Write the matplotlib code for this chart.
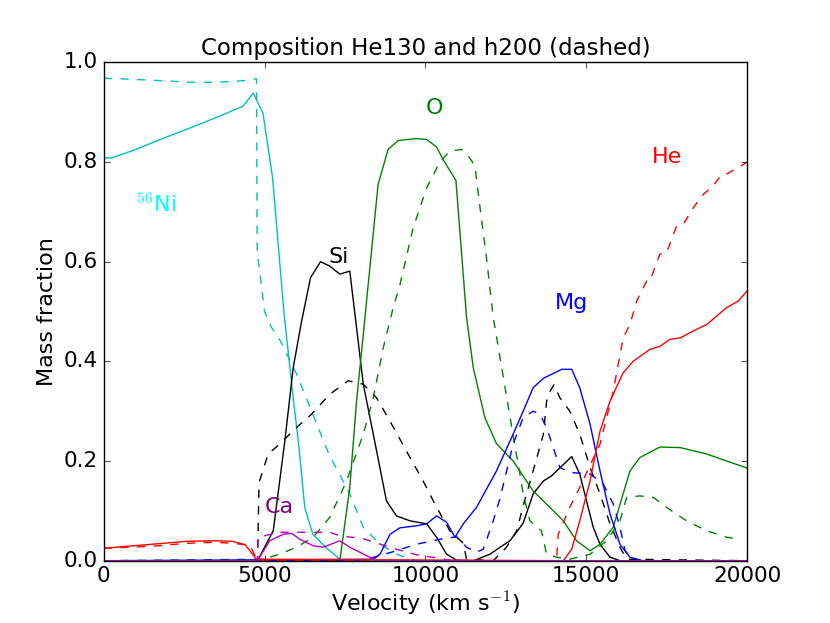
import numpy as np
import matplotlib
matplotlib.use('Agg')
import matplotlib.pyplot as plt

plt.style.use('classic')
plt.rcParams['font.size'] = 16
plt.rcParams['xtick.labelsize'] = 15.5
plt.rcParams['ytick.labelsize'] = 15.5

# He130 (solid) and h200 (dashed): velocity [km/s] and mass fraction
ni_v  = [0, 230, 910, 1950, 2990, 3820, 4330, 4650, 4750, 4950, 5250, 5600, 5900, 6050, 6250, 6500, 6900, 7400, 20000]
ni_f  = [0.808, 0.808, 0.823, 0.85, 0.876, 0.898, 0.912, 0.938, 0.925, 0.898, 0.768, 0.50, 0.32, 0.24, 0.107, 0.053, 0.027, 0.0, 0.0]
ni_vd = [0, 500, 1500, 2700, 3500, 4330, 4750, 4770, 4850, 5000, 5200, 5500, 6000, 6500, 7000, 7650, 8070, 8590, 9100, 9720, 20000]
ni_fd = [0.968, 0.967, 0.964, 0.960, 0.960, 0.963, 0.967, 0.62, 0.58, 0.50, 0.47, 0.44, 0.374, 0.294, 0.214, 0.134, 0.067, 0.033, 0.013, 0.0, 0.0]

si_v  = [0, 4780, 5270, 5630, 5890, 6150, 6430, 6740, 7030, 7340, 7650, 7800, 8070, 8380, 8790, 9100, 9520, 10040, 10350, 10660, 10970, 11500,
         12010, 12320, 12630, 13040, 13350, 13670, 13920, 14240, 14550, 14800, 15010, 15220, 15430, 15740, 16050, 20000]
si_f  = [0, 0, 0.06, 0.24, 0.387, 0.48, 0.568, 0.60, 0.591, 0.575, 0.581, 0.50, 0.354, 0.254, 0.12, 0.09, 0.08, 0.074, 0.047, 0.013, 0.001, 0.0,
         0.013, 0.027, 0.04, 0.075, 0.134, 0.16, 0.17, 0.19, 0.209, 0.174, 0.12, 0.067, 0.033, 0.007, 0.0, 0.0]
si_vd = [0, 4780, 4830, 5110, 5470, 5940, 6460, 7030, 7600, 8070, 8480, 8900, 9410, 9930, 10350, 10760, 11180, 11280, 12110, 12520, 12840,
         13040, 13350, 13670, 13770, 13820, 14000, 14180, 14490, 14800, 15120, 15430, 15740, 16050, 16260, 20000]
si_fd = [0, 0, 0.157, 0.214, 0.234, 0.264, 0.294, 0.334, 0.361, 0.354, 0.327, 0.28, 0.22, 0.16, 0.107, 0.06, 0.035, 0.003, 0.0, 0.027, 0.06,
         0.11, 0.18, 0.254, 0.32, 0.334, 0.353, 0.327, 0.30, 0.254, 0.187, 0.134, 0.074, 0.027, 0.003, 0.0]

o_v  = [0, 7340, 7650, 7860, 8070, 8170, 8530, 8840, 9150, 9720, 10040, 10350, 10550, 10950, 11280, 11490, 11850, 12210, 12730, 13350,
        13870, 14290, 14700, 15120, 15430, 15840, 16360, 16670, 17290, 17920, 18750, 19370, 20000]
o_f  = [0, 0, 0.147, 0.32, 0.454, 0.52, 0.755, 0.825, 0.843, 0.847, 0.845, 0.830, 0.805, 0.763, 0.488, 0.387, 0.287, 0.235, 0.20, 0.14,
        0.107, 0.08, 0.04, 0.02, 0.033, 0.067, 0.18, 0.207, 0.228, 0.227, 0.214, 0.20, 0.186]
o_vd = [0, 4950, 5470, 5990, 6510, 7030, 7550, 8070, 8380, 8690, 9000, 9210, 9620, 10040, 10450, 10760, 11130, 11380, 11540, 11700, 11900,
        12110, 12420, 12730, 12940, 13040, 13250, 13610, 13770, 14080, 14490, 15120, 15640, 16050, 16260, 16670, 17090, 17500, 18120, 18750,
        19370, 19800]
o_fd = [0, 0.003, 0.013, 0.027, 0.047, 0.087, 0.16, 0.254, 0.327, 0.427, 0.508, 0.554, 0.668, 0.748, 0.80, 0.822, 0.825, 0.808, 0.792, 0.708, 0.608,
        0.488, 0.37, 0.25, 0.174, 0.134, 0.08, 0.06, 0.013, 0.007, 0.003, 0.013, 0.04, 0.08, 0.127, 0.13, 0.127, 0.107, 0.08, 0.06,
        0.047, 0.043]

mg_v  = [0, 8380, 8590, 8900, 9210, 9720, 10040, 10350, 10660, 10920, 11180, 11590, 12210, 12730, 13040, 13350, 13670, 14240, 14550, 14800,
         15120, 15430, 15740, 16050, 16360, 16770, 20000]
mg_f  = [0, 0.003, 0.013, 0.053, 0.066, 0.07, 0.074, 0.09, 0.077, 0.047, 0.074, 0.107, 0.18, 0.254, 0.30, 0.347, 0.366, 0.384, 0.384, 0.347,
         0.274, 0.18, 0.094, 0.033, 0.007, 0.0, 0.0]
mg_vd = [0, 7860, 8410, 9100, 9720, 10450, 10970, 11280, 11590, 11800, 12110, 12320, 12730, 13040, 13350, 13560, 13770, 14180, 14490, 15120,
         15530, 15840, 16050, 16210, 16460, 20000]
mg_fd = [0, 0, 0.007, 0.02, 0.033, 0.043, 0.048, 0.027, 0.017, 0.023, 0.08, 0.125, 0.234, 0.287, 0.30, 0.294, 0.267, 0.187, 0.177, 0.174,
         0.154, 0.114, 0.067, 0.02, 0.0, 0.0]

he_v  = [0, 1500, 2600, 3400, 4000, 4400, 4750, 14290, 14550, 14800, 15120, 15430, 15740, 16150, 16460, 16980, 17290, 17600, 17920, 18330,
         18750, 19370, 19730, 20000]
he_f  = [0.025, 0.033, 0.039, 0.040, 0.039, 0.032, 0.003, 0.0, 0.023, 0.08, 0.16, 0.26, 0.32, 0.377, 0.40, 0.424, 0.43, 0.444, 0.447, 0.461,
         0.474, 0.508, 0.521, 0.541]
he_vd = [0, 1500, 2600, 3400, 4000, 4550, 4750, 4800, 14000, 14080, 14130, 14490, 14800, 15430, 15840, 16150, 16360, 16570, 16880, 16980,
         17290, 17500, 17810, 18020, 18330, 18640, 18950, 19210, 19370, 19890, 20000]
he_fd = [0.025, 0.029, 0.035, 0.037, 0.035, 0.031, 0.003, 0.0, 0.0, 0.003, 0.053, 0.107, 0.147, 0.234, 0.34, 0.447, 0.474, 0.521, 0.561, 0.561,
         0.615, 0.618, 0.671, 0.675, 0.708, 0.735, 0.752, 0.775, 0.776, 0.795, 0.80]

ca_v  = [0, 4780, 5160, 5580, 5840, 6100, 6510, 6820, 7340, 7650, 8270, 8480, 20000]
ca_f  = [0, 0, 0.04, 0.053, 0.055, 0.043, 0.03, 0.027, 0.04, 0.027, 0.007, 0.0, 0.0]
ca_vd = [0, 4780, 4800, 5470, 6510, 7030, 7340, 8070, 8900, 9100, 9720, 9930, 10860, 20000]
ca_fd = [0, 0, 0.047, 0.057, 0.057, 0.057, 0.05, 0.044, 0.027, 0.023, 0.012, 0.01, 0.0, 0.0]

fig, ax = plt.subplots(figsize=(8.3, 6.23))

ax.plot(ni_v, ni_f, 'c-')
ax.plot(ni_vd, ni_fd, 'c--')
ax.plot(si_v, si_f, 'k-')
ax.plot(si_vd, si_fd, 'k--')
ax.plot(o_v, o_f, 'g-')
ax.plot(o_vd, o_fd, 'g--')
ax.plot(mg_v, mg_f, 'b-')
ax.plot(mg_vd, mg_fd, 'b--')
ax.plot(he_v, he_f, 'r-')
ax.plot(he_vd, he_fd, 'r--')
ax.plot(ca_v, ca_f, 'm-')
ax.plot(ca_vd, ca_fd, 'm--')

# element labels
ax.text(1000, 0.70, r'$^{56}$Ni', color='cyan', fontsize=16)
ax.text(7000, 0.597, 'Si', color='black', fontsize=16)
ax.text(10020, 0.896, 'O', color='green', fontsize=16)
ax.text(17030, 0.798, 'He', color='red', fontsize=16)
ax.text(14030, 0.505, 'Mg', color='blue', fontsize=16)
ax.text(5010, 0.096, 'Ca', color='purple', fontsize=16)

ax.set_xlim(0, 20000)
ax.set_ylim(0, 1.0)
ax.set_xticks([0, 5000, 10000, 15000, 20000])
ax.set_yticks(np.arange(0, 1.01, 0.2))
ax.set_title('Composition He130 and h200 (dashed)', fontsize=16.5)
ax.set_xlabel(r'Velocity (km s$^{-1}$)', labelpad=3)
ax.set_ylabel('Mass fraction')

plt.savefig('out.png', dpi=100)
